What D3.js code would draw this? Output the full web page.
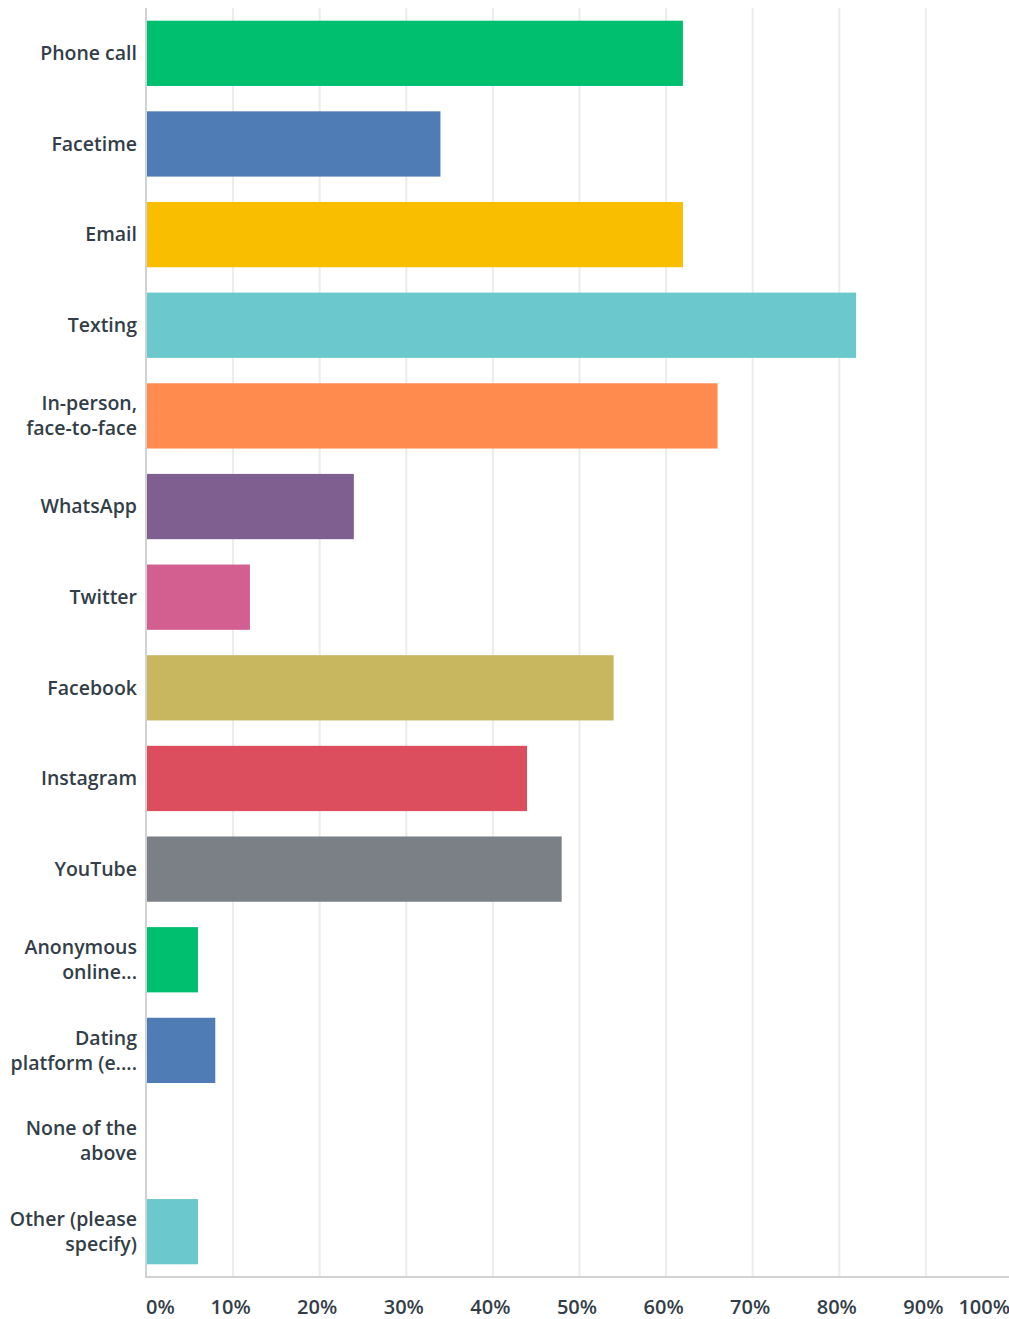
<!DOCTYPE html>
<html>
<head>
<meta charset="utf-8">
<script src="https://cdn.jsdelivr.net/npm/d3@7"></script>
<style>
  body { margin: 0; background: #fff; }
  svg { display: block; }
</style>
</head>
<body>
<svg id="chart" width="1009" height="1319"></svg>
<script>
// answer choices (line breaks as shown in the chart)
var categories = [
  ["Phone call"], ["Facetime"], ["Email"], ["Texting"],
  ["In-person,", "face-to-face"], ["WhatsApp"], ["Twitter"], ["Facebook"],
  ["Instagram"], ["YouTube"], ["Anonymous", "online..."],
  ["Dating", "platform (e...."], ["None of the", "above"], ["Other (please", "specify)"]
];
var percents = [62, 34, 62, 82, 66, 24, 12, 54, 44, 48, 6, 8, 0, 6];
var colors = ['#00bf6f', '#507cb6', '#f9be00', '#6bc8cd', '#ff8b4f', '#7f5f90', '#d25f90',
              '#c9b75f', '#dc4e5d', '#7a8086', '#00bf6f', '#507cb6', '#f9be00', '#6bc8cd'];
var tickValues = [0, 10, 20, 30, 40, 50, 60, 70, 80, 90, 100];

var svg = d3.select("#chart");
var plotLeft = 146, plotTop = 8, plotBottom = 1277, plotRight = 1012;
var textColor = '#333e48';
var font = '"Open Sans", sans-serif';
var catSize = 19.5;

var x = d3.scaleLinear().domain([0, 100]).range([plotLeft, plotRight]);
var y = d3.scaleBand().domain(d3.range(categories.length)).range([plotTop, plotBottom])
    .paddingInner(0.28).paddingOuter(0.14);

// gridlines
svg.append("g")
    .attr("transform", "translate(0," + plotBottom + ")")
    .call(d3.axisBottom(x).tickValues(tickValues.slice(1)).tickSize(-(plotBottom - plotTop)).tickFormat(""))
    .call(function(g) { g.select(".domain").remove(); })
    .selectAll("line")
    .attr("stroke", "#ececec")
    .attr("stroke-width", 2);

// bars
svg.selectAll("rect.bar")
    .data(percents)
    .enter().append("rect")
    .attr("class", "bar")
    .attr("x", x(0))
    .attr("y", function(d, i) { return y(i); })
    .attr("width", function(d) { return x(d) - x(0); })
    .attr("height", y.bandwidth())
    .attr("fill", function(d, i) { return colors[i]; });

// axis lines
svg.append("line")
    .attr("x1", plotLeft).attr("x2", plotLeft).attr("y1", plotTop).attr("y2", plotBottom)
    .attr("stroke", "#d0d2d3").attr("stroke-width", 2);
svg.append("line")
    .attr("x1", plotLeft - 1).attr("x2", plotRight).attr("y1", plotBottom).attr("y2", plotBottom)
    .attr("stroke", "#d0d2d3").attr("stroke-width", 2);

// category labels
var labels = svg.selectAll("text.cat")
    .data(categories)
    .enter().append("text")
    .attr("class", "cat")
    .attr("text-anchor", "end")
    .attr("font-family", font)
    .attr("font-weight", 600)
    .attr("font-size", catSize)
    .attr("fill", textColor)
    .attr("transform", function(d, i) { return "translate(137," + (y(i) + y.bandwidth() / 2) + ")"; });

labels.selectAll("tspan")
    .data(function(d) { return d; })
    .enter().append("tspan")
    .attr("x", 0)
    .attr("dy", function(d, j, nodes) {
        var n = nodes.length;
        return j == 0 ? (0.35 * catSize - (n - 1) * 12.5) : 25;
    })
    .text(function(d) { return d; });

// tick labels
svg.selectAll("text.pct")
    .data(tickValues)
    .enter().append("text")
    .attr("class", "pct")
    .attr("x", function(d) { return d == 0 ? x(d) : x(d) - 2; })
    .attr("y", 1314)
    .attr("text-anchor", function(d) { return d == 0 ? "start" : (d == 100 ? "end" : "middle"); })
    .attr("font-family", font)
    .attr("font-weight", 600)
    .attr("font-size", 20)
    .attr("fill", textColor)
    .text(function(d) { return d + "%"; });
</script>
</body>
</html>
